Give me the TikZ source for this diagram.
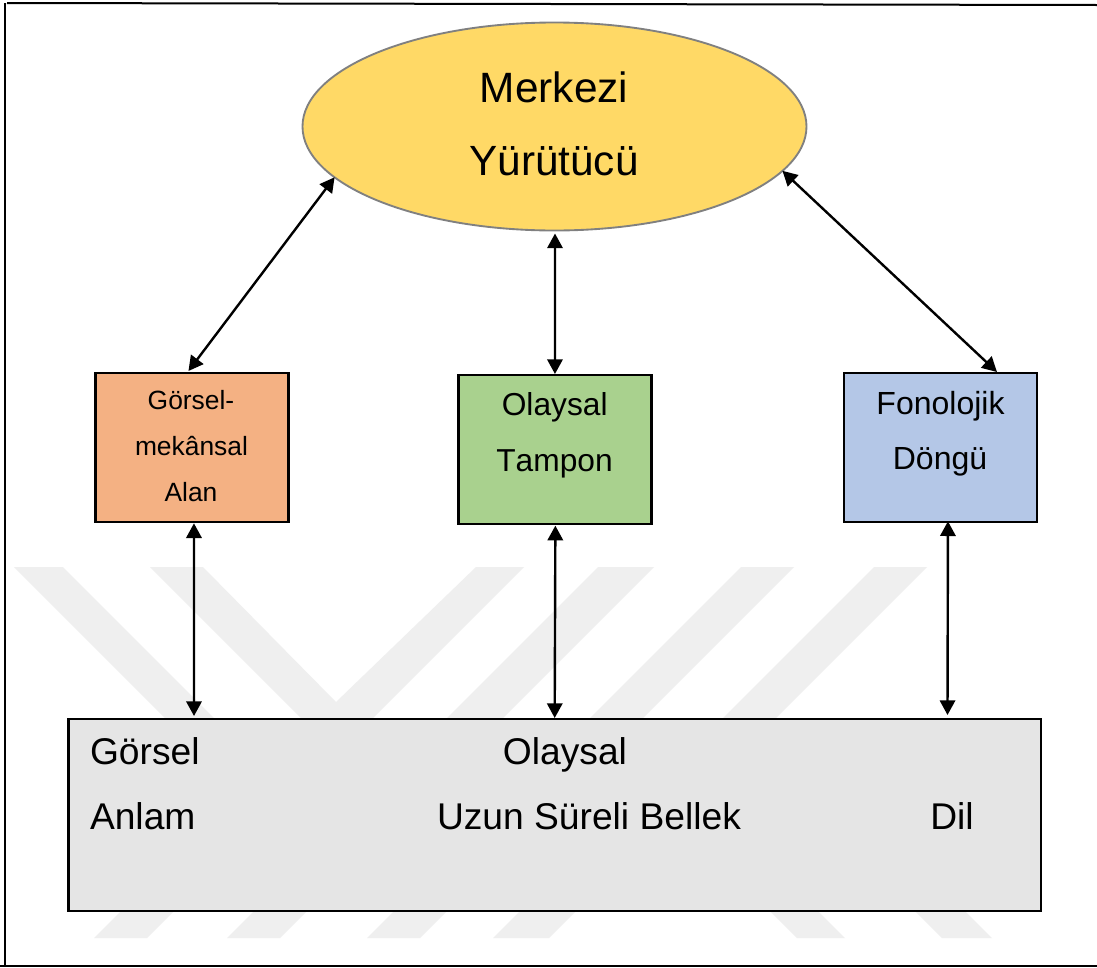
\documentclass[tikz,border=0pt]{standalone}
\usepackage{fontspec}
\setmainfont[Kerning=Off]{Liberation Sans}
\usetikzlibrary{shapes.geometric,arrows.meta,calc}
\definecolor{wm}{HTML}{EFEFEF}
\definecolor{ellfill}{HTML}{FFD966}
\definecolor{ellline}{HTML}{808080}
\definecolor{orangebox}{HTML}{F4B183}
\definecolor{greenbox}{HTML}{A9D18E}
\definecolor{bluebox}{HTML}{B4C7E7}
\definecolor{greybox}{HTML}{E5E5E5}
\newcommand{\fs}[1]{\fontsize{#1}{#1}\selectfont}
\tikzset{
  x=0.75pt,y=-0.75pt,
  framel/.style={draw=black,line width=1.5pt},
  mark wm/.style={fill=wm,draw=none},
  boxn/.style={draw=black,line width=1.6pt,inner sep=0pt,outer sep=0pt,minimum width=144.7pt,anchor=north west},
  twoway/.style={line width=1.8pt,{Triangle[length=11pt,width=11.5pt]}-{Triangle[length=11pt,width=11.5pt]}},
  lbl/.style={inner sep=0pt,outer sep=0pt,text=black,anchor=base},
}
\begin{document}
\begin{tikzpicture}
\useasboundingbox (0,0) rectangle (1097,968);
\fill[white] (0,0) rectangle (1097,968);
% watermark
\fill[mark wm] (14,567)--(63,567)--(214,718)--(165,718)--cycle;
\fill[mark wm] (150,567)--(203,567)--(336,702)--(476,567)--(524,567)--(373,718)--(301,718)--cycle;
\fill[mark wm] (598,567)--(654,567)--(503,718)--(447,718)--cycle;
\fill[mark wm] (741,567)--(794,567)--(643,718)--(590,718)--cycle;
\fill[mark wm] (874,567)--(927,567)--(776,718)--(723,718)--cycle;
\fill[mark wm] (94,938)--(147,938)--(174,911)--(121,911)--cycle;
\fill[mark wm] (227,938)--(280,938)--(307,911)--(254,911)--cycle;
\fill[mark wm] (367,938)--(420,938)--(447,911)--(394,911)--cycle;
\fill[mark wm] (493,938)--(549,938)--(576,911)--(520,911)--cycle;
\fill[mark wm] (797,938)--(845,938)--(818,911)--(770,911)--cycle;
\fill[mark wm] (942,938)--(992,938)--(965,911)--(915,911)--cycle;
% frame
\draw[framel] (7,3)--(1097,5);
\draw[framel] (5,3)--(5,966);
\draw[framel] (0,966)--(1097,966);
% nodes
\node[ellipse,draw=ellline,line width=1.4pt,fill=ellfill,minimum width=378pt,minimum height=156pt,inner sep=0pt,outer sep=0pt] (ell) at (554.5,126.5) {};
\node[lbl,font=\fs{31.8}] (t1) at (554,102.5) {Merkezi};
\node[lbl,font=\fs{31.7}] (t2) at (554,175) {Yürütücü};
\node[boxn,fill=orangebox,minimum height=112pt] (gm) at (95.5,373) {};
\node[lbl,font=\fs{19.8}] (gm1) at (191,409.5) {Görsel-};
\node[lbl,font=\fs{19.8}] (gm2) at (191.5,455.5) {mekânsal};
\node[lbl,font=\fs{19.8}] (gm3) at (191,501) {Alan};
\node[boxn,fill=greenbox,minimum height=111.5pt] (ot) at (458.5,375) {};
\node[lbl,font=\fs{23.8}] (ot1) at (554.7,415) {Olaysal};
\node[lbl,font=\fs{23.8}] (ot2) at (554.5,471) {Tampon};
\node[boxn,fill=bluebox,minimum height=112pt] (fd) at (844,373) {};
\node[lbl,font=\fs{24}] (fd1) at (940.5,414) {Fonolojik};
\node[lbl,font=\fs{24}] (fd2) at (940,469) {Döngü};
\node[boxn,fill=greybox,minimum width=729.5pt,minimum height=144pt] (ltm) at (68.5,719) {};
\node[lbl,font=\fs{27.9},anchor=base west] (l1) at (90,764) {Görsel};
\node[lbl,font=\fs{27.9},anchor=base west] (l2) at (90,829) {Anlam};
\node[lbl,font=\fs{27.9}] (l3) at (565,764) {Olaysal};
\node[lbl,font=\fs{27.9}] (l4) at (589,829) {Uzun Süreli Bellek};
\node[lbl,font=\fs{27.9}] (l5) at (952,829) {Dil};
% connectors
\draw[twoway] (ell.193)--($(gm.north)+(-3.5,-2)$);
\draw[twoway] ($(ell.south)+(0.5,3)$)--($(ot.north)+(0,-1)$);
\draw[twoway] (ell.349.5)--($(fd.north)+(56.5,-1)$);
\draw[twoway] ($(gm.south)+(2,1)$)--($(ltm.north west)+(125.5,-3)$);
\draw[twoway] ($(ot.south)+(0.4,2)$)--($(ltm.north west)+(486.2,-1)$);
\draw[twoway] ($(fd.south)+(7.5,-1)$)--($(ltm.north west)+(879,-4)$);
\end{tikzpicture}
\end{document}
